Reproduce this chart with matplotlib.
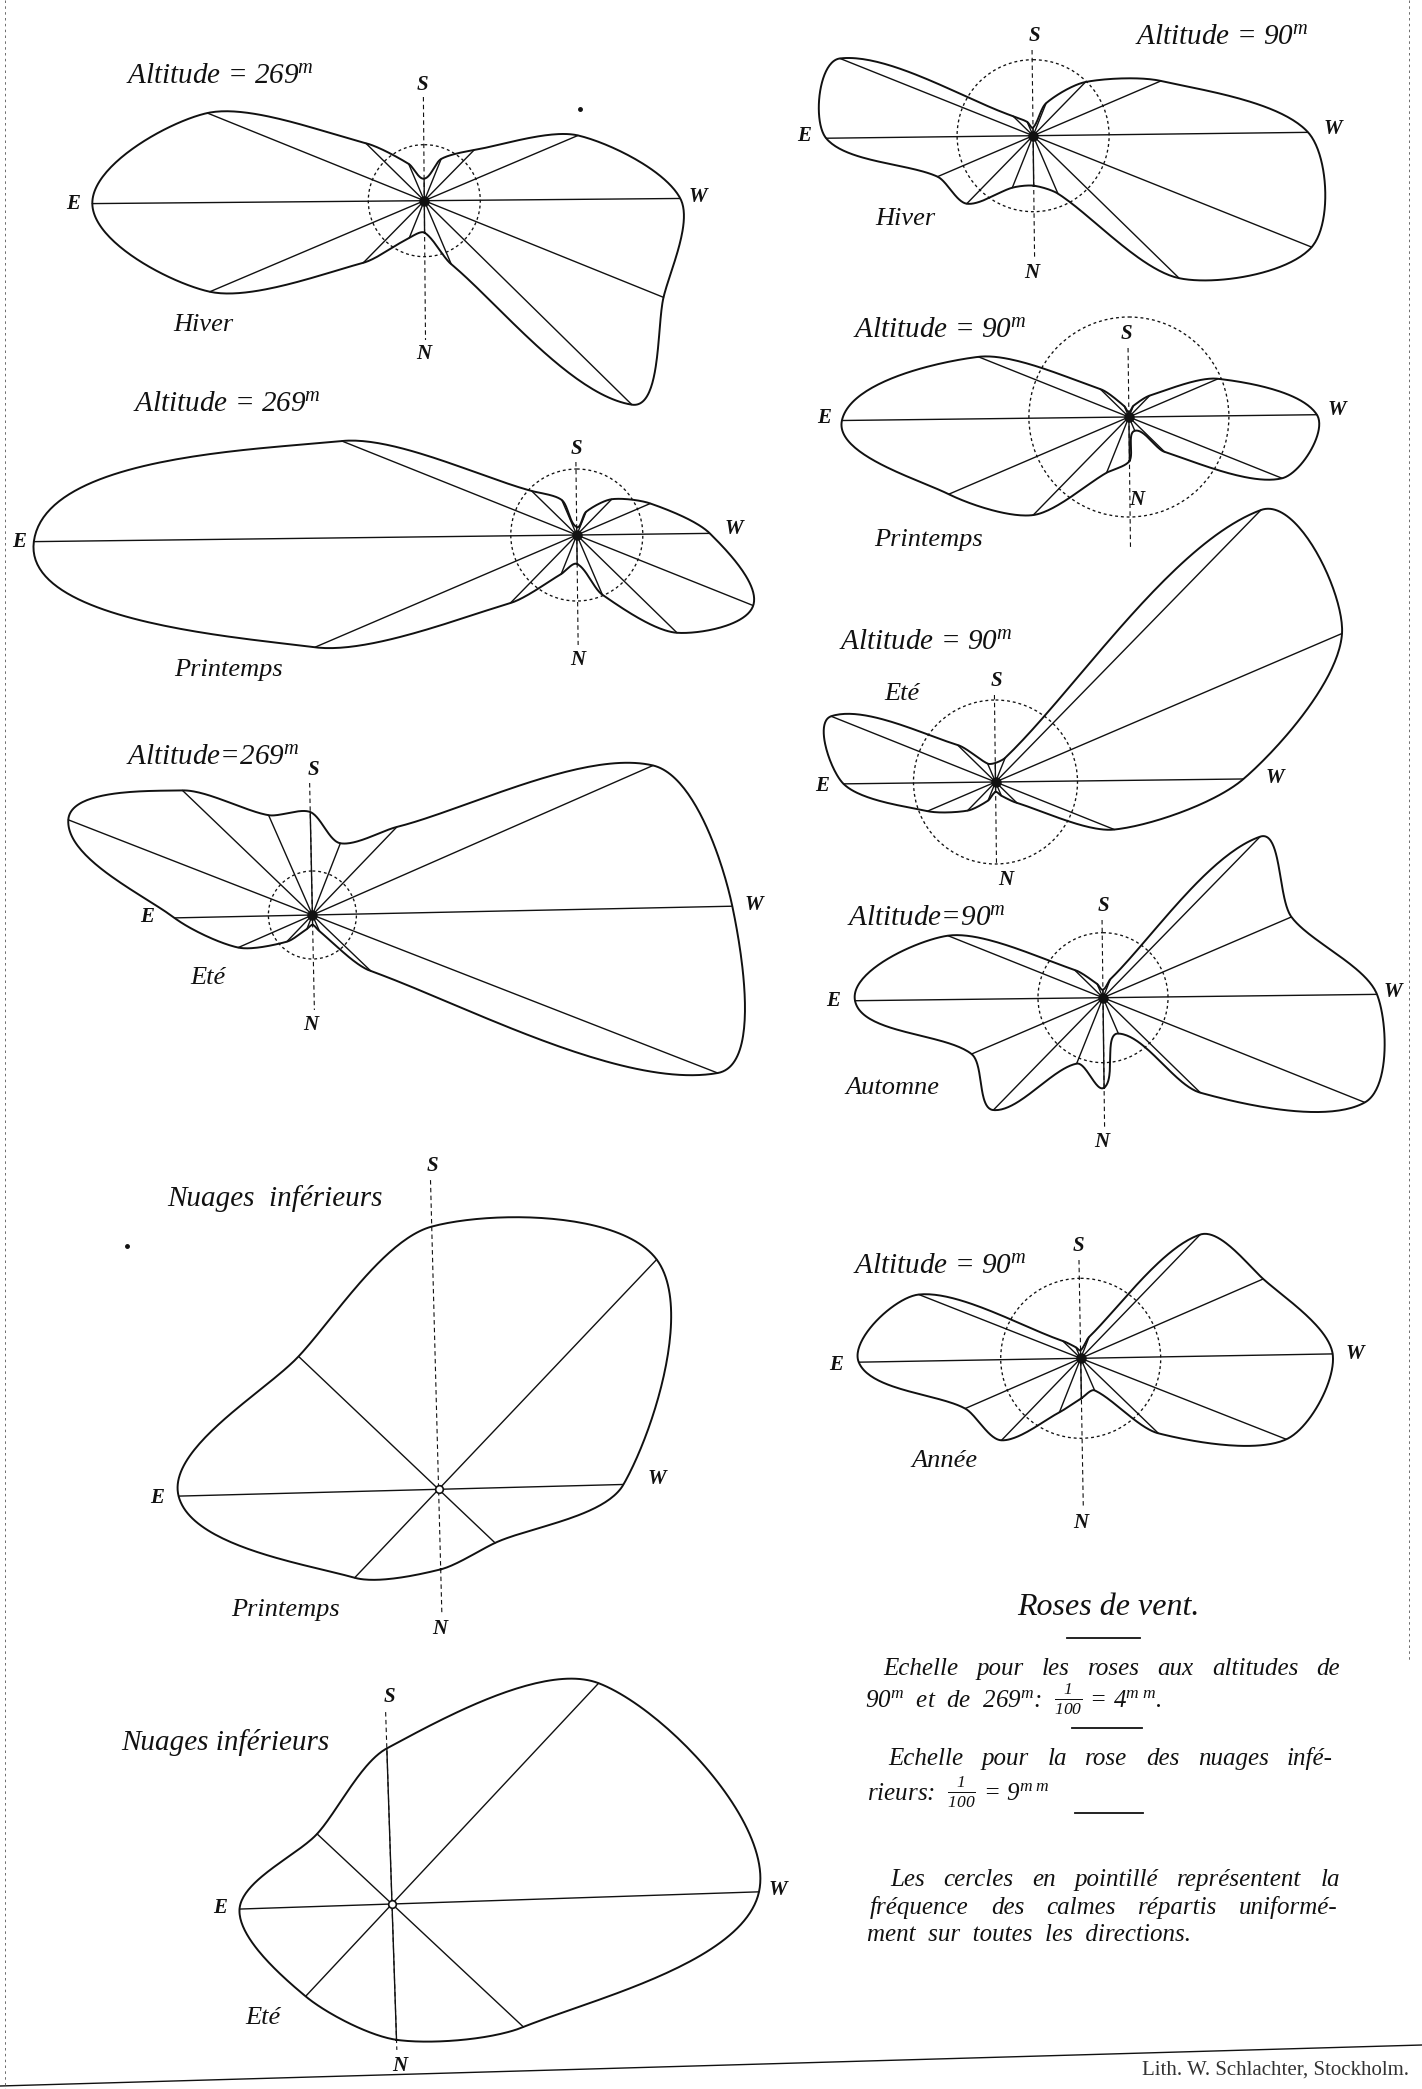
import numpy as np
import matplotlib
matplotlib.use("Agg")
import matplotlib.pyplot as plt
from matplotlib.patches import Circle

plt.rcParams["mathtext.fontset"] = "custom"
plt.rcParams["mathtext.rm"] = "Liberation Serif:italic"
plt.rcParams["mathtext.it"] = "Liberation Serif:italic"
plt.rcParams["mathtext.bf"] = "Liberation Serif:bold:italic"
SERIF = ["Liberation Serif", "DejaVu Serif"]
INK = "#111111"

# ------------------------------------------------------------------
# Wind frequencies (%) by direction
# ------------------------------------------------------------------
DIRS16 = ["N", "NNE", "NE", "ENE", "E", "ESE", "SE", "SSE",
          "S", "SSW", "SW", "WSW", "W", "WNW", "NW", "NNW"]
DIRS8 = ["N", "NE", "E", "SE", "S", "SW", "W", "NW"]

# altitude 269 m
alt269_hiver = [1.6, 2.0, 4.35, 11.65, 16.6, 11.7, 4.1, 2.0,
                1.1, 2.25, 3.55, 8.35, 12.8, 12.9, 14.55, 3.45]
alt269_printemps = [1.45, 2.1, 4.75, 14.25, 27.15, 12.65, 3.15, 1.9,
                    0.4, 1.25, 2.5, 4.0, 6.65, 9.5, 7.0, 3.25]
alt269_ete = [0.5, 0.75, 1.85, 4.05, 6.9, 13.1, 9.0, 5.45,
              5.15, 3.85, 6.1, 18.6, 21.0, 21.75, 4.05, 0.9]

# altitude 90 m
alt90_hiver = [2.5, 2.8, 4.75, 5.2, 10.35, 10.4, 1.4, 0.75,
               0.4, 1.75, 3.75, 6.95, 13.75, 15.0, 10.2, 3.15]
alt90_printemps = [2.2, 3.0, 6.85, 9.8, 14.35, 8.1, 2.0, 0.6,
                   0.25, 0.6, 1.5, 4.85, 9.4, 8.25, 2.5, 0.75]
alt90_ete = [0.5, 1.0, 2.0, 3.7, 7.6, 8.85, 2.65, 1.0,
             0.95, 1.3, 19.0, 18.85, 12.4, 6.4, 1.5, 0.75]
alt90_automne = [4.5, 3.55, 7.85, 7.15, 12.4, 8.35, 2.0, 0.75,
                 0.4, 1.0, 11.25, 10.25, 13.7, 14.1, 6.8, 1.95]
alt90_annee = [2.0, 2.9, 5.7, 6.3, 11.1, 8.7, 1.25, 0.6,
               0.4, 1.15, 8.6, 9.95, 12.6, 11.05, 5.4, 1.75]

# calms spread evenly over all directions (% per direction)
calms_269 = {"hiver": 2.8, "printemps": 3.3, "ete": 2.2}
calms_90 = {"hiver": 3.8, "printemps": 5.0, "ete": 4.1,
            "automne": 3.25, "annee": 4.0}

# lower clouds, 8 directions
nuages_printemps = [1.78, 2.71, 5.78, 4.29, 5.84, 7.04, 4.11, 1.73]
nuages_ete = [3.02, 2.81, 3.39, 2.28, 3.46, 6.72, 8.16, 4.0]

# plate scales: 1/100 = 4 mm (altitudes), 1/100 = 9 mm (clouds)
MM_PER_PCT_ALT = 4.0
MM_PER_PCT_CLOUD = 9.0
PX_PER_MM = 5.0

# ------------------------------------------------------------------
# Figure: one axes in plate pixel units, y pointing down
# ------------------------------------------------------------------
W_PX, H_PX, DPI = 1422, 2089, 100
fig = plt.figure(figsize=(W_PX / DPI, H_PX / DPI), dpi=DPI)
fig.patch.set_facecolor("white")
ax = fig.add_axes([0, 0, 1, 1])
ax.set_xlim(0, W_PX)
ax.set_ylim(H_PX, 0)
ax.axis("off")


def smooth_closed(px, py, n=48, k=0.8):
    """Closed G1 Hermite curve through the points; the tangent at each
    end of a segment follows the neighbours' chord and scales with the
    segment's own length, so short segments stay tight."""
    P = np.column_stack([px, py]).astype(float)
    N = len(P)
    D = np.roll(P, -1, axis=0) - np.roll(P, 1, axis=0)
    norm = np.hypot(D[:, 0], D[:, 1])
    norm[norm < 1e-9] = 1.0
    Tdir = D / norm[:, None]
    s = np.linspace(0, 1, n, endpoint=False)[:, None]
    h00 = 2 * s**3 - 3 * s**2 + 1
    h10 = s**3 - 2 * s**2 + s
    h01 = -2 * s**3 + 3 * s**2
    h11 = s**3 - s**2
    out = []
    for i in range(N):
        j = (i + 1) % N
        L = np.hypot(*(P[j] - P[i]))
        m0 = Tdir[i] * L * k
        m1 = Tdir[j] * L * k
        out.append(h00 * P[i] + h10 * m0 + h01 * P[j] + h11 * m1)
    out = np.vstack(out)
    out = np.vstack([out, out[:1]])
    return out[:, 0], out[:, 1]


def direction_vectors(n_dirs, rot_deg):
    # N points down, E left, S up, W right
    b = np.deg2rad(np.arange(n_dirs) * 360.0 / n_dirs)
    dx, dy = -np.sin(b), np.cos(b)
    phi = np.deg2rad(rot_deg)
    return (dx * np.cos(phi) + dy * np.sin(phi),
            -dx * np.sin(phi) + dy * np.cos(phi))


def draw_rose(values, mm_per_pct, center, rot, calm=None, axis=None,
              cloud=False, dashed_meridian=False):
    cx, cy = center
    unit = mm_per_pct * PX_PER_MM
    n = len(values)
    r = np.asarray(values, dtype=float) * unit
    ux, uy = direction_vectors(n, rot)
    ex, ey = cx + r * ux, cy + r * uy
    # dashed S-N axis
    if axis is not None:
        top, bottom = axis
        sx_, sy_ = direction_vectors(4, rot)
        ax.plot([cx + sx_[2] * (cy - top), cx + sx_[0] * (bottom - cy)],
                [cy + sy_[2] * (cy - top), cy + sy_[0] * (bottom - cy)],
                color=INK, lw=0.8, ls=(0, (4, 3)), zorder=2)
    if calm is not None:
        ax.add_patch(Circle((cx, cy), calm * unit, fill=False, ec=INK,
                            lw=0.95, ls=(0, (2.2, 2.2)), zorder=2))
    for i, (x1, y1) in enumerate(zip(ex, ey)):
        if dashed_meridian and i in (0, n // 2):
            continue
        ax.plot([cx, x1], [cy, y1], color=INK, lw=1.0,
                solid_capstyle="round", zorder=3)
    ox, oy = smooth_closed(ex, ey)
    ax.plot(ox, oy, color=INK, lw=1.4, zorder=4)
    if cloud:
        ax.plot(cx, cy, "o", ms=5.5, mfc="white", mec=INK, mew=1.2, zorder=5)
    else:
        ax.plot(cx, cy, "o", ms=6.5, color=INK, zorder=5)


def label(x, y, s, size=21, bold=False, ha="center"):
    ax.text(x, y, s, fontsize=size, family=SERIF, style="italic",
            weight="bold" if bold else "normal", ha=ha, va="center",
            color=INK, zorder=6)


def compass(s_pos, n_pos, e_pos, w_pos, size=15):
    for (x, y), t in zip([s_pos, n_pos, e_pos, w_pos], "SNEW"):
        label(x, y, t, size=size, bold=True)


# ------------------------------------------------------------------
# Roses (layout: centre, tilt of the plate, dashed axis extent)
# ------------------------------------------------------------------
draw_rose(alt269_hiver, MM_PER_PCT_ALT, (424.3, 200.7), 0.5,
          calms_269["hiver"], axis=(97, 340))
label(220, 76, r"Altitude = 269$^{m}$")
label(203, 325, "Hiver", size=19)
compass((422, 85), (424, 354), (73, 204), (698, 197))

draw_rose(alt269_printemps, MM_PER_PCT_ALT, (576.8, 535.0), 0.7,
          calms_269["printemps"], axis=(462, 645))
label(227, 404, r"Altitude = 269$^{m}$")
label(228, 670, "Printemps", size=19)
compass((576, 449), (578, 660), (19, 542), (734, 529))

draw_rose(alt269_ete, MM_PER_PCT_ALT, (312.4, 915.0), 1.2,
          calms_269["ete"], axis=(783, 1010))
label(213, 757, r"Altitude=269$^{m}$")
label(208, 978, "Eté", size=19)
compass((313, 770), (311, 1025), (147, 917), (754, 905))

draw_rose(nuages_printemps, MM_PER_PCT_CLOUD, (438.6, 1489.3), 1.5,
          axis=(1180, 1615), cloud=True, dashed_meridian=True)
label(275, 1199, "Nuages  inférieurs")
label(285, 1610, "Printemps", size=19)
compass((432, 1166), (440, 1629), (157, 1498), (657, 1479))

draw_rose(nuages_ete, MM_PER_PCT_CLOUD, (392.0, 1904.0), 1.9,
          axis=(1712, 2050), cloud=True)
label(225, 1742, "Nuages inférieurs")
label(263, 2018, "Eté", size=19)
compass((389, 1697), (400, 2066), (220, 1908), (778, 1890))

draw_rose(alt90_hiver, MM_PER_PCT_ALT, (1033.1, 135.7), 0.7,
          calms_90["hiver"], axis=(50, 258))
label(1222, 37, r"Altitude = 90$^{m}$")
label(905, 219, "Hiver", size=19)
compass((1034, 36), (1032, 273), (804, 136), (1333, 129))

draw_rose(alt90_printemps, MM_PER_PCT_ALT, (1128.9, 417.0), 0.7,
          calms_90["printemps"], axis=(348, 548))
label(940, 330, r"Altitude = 90$^{m}$")
label(928, 540, "Printemps", size=19)
compass((1126, 334), (1137, 500), (824, 418), (1337, 410))

draw_rose(alt90_ete, MM_PER_PCT_ALT, (995.5, 782.0), 0.7,
          calms_90["ete"], axis=(695, 865))
label(926, 642, r"Altitude = 90$^{m}$")
label(902, 694, "Eté", size=19)
compass((996, 681), (1006, 880), (822, 786), (1275, 778))

draw_rose(alt90_automne, MM_PER_PCT_ALT, (1103.0, 997.7), 0.7,
          calms_90["automne"], axis=(920, 1128))
label(926, 918, r"Altitude=90$^{m}$")
label(892, 1088, "Automne", size=19)
compass((1103, 906), (1102, 1142), (833, 1001), (1393, 992))

draw_rose(alt90_annee, MM_PER_PCT_ALT, (1080.7, 1358.3), 1.0,
          calms_90["annee"], axis=(1260, 1508))
label(940, 1266, r"Altitude = 90$^{m}$")
label(945, 1461, "Année", size=19)
compass((1078, 1246), (1081, 1523), (836, 1365), (1355, 1354))

# ------------------------------------------------------------------
# Legend block
# ------------------------------------------------------------------
renderer = fig.canvas.get_renderer()


def justified(line, x0, x1, y, size=18):
    words = line.split(" ")
    texts = [ax.text(0, y, w, fontsize=size, family=SERIF, style="italic",
                     ha="left", va="baseline", color=INK) for w in words]
    widths = [t.get_window_extent(renderer).width for t in texts]
    gap = (x1 - x0 - sum(widths)) / max(len(words) - 1, 1)
    x = x0
    for t, w in zip(texts, widths):
        t.set_x(x)
        x += w + gap


def plain(line, x0, y, size=18):
    ax.text(x0, y, line, fontsize=size, family=SERIF, style="italic",
            ha="left", va="baseline", color=INK)


ax.text(1108, 1615, "Roses de vent.", fontsize=23, family=SERIF,
        style="italic", ha="center", va="baseline", color=INK)
for (xa, xb, yy) in [(1067, 1140, 1638), (1072, 1142, 1728),
                     (1075, 1143, 1813)]:
    ax.plot([xa, xb], [yy, yy], color=INK, lw=1.3)

justified("Echelle pour les roses aux altitudes de", 883, 1340, 1675)
plain(r"90$^{m}$  et  de  269$^{m}$:  $\frac{1}{100}$ = 4$^{m\ m}$.", 865, 1707)
justified("Echelle pour la rose des nuages infé-", 888, 1333, 1765)
plain(r"rieurs:  $\frac{1}{100}$ = 9$^{m\ m}$", 867, 1800)
justified("Les cercles en pointillé représentent la", 890, 1340, 1886)
justified("fréquence des calmes répartis uniformé-", 870, 1338, 1914)
plain("ment  sur  toutes  les  directions.", 867, 1941)

# imprint and plate border
ax.plot([0, W_PX], [2086, 2045], color=INK, lw=1.0)
ax.text(1275, 2070, "Lith. W. Schlachter, Stockholm.", fontsize=15,
        family=SERIF, ha="center", va="center", color="#333333")
ax.plot([5, 5], [0, H_PX], color="#555555", lw=0.6, ls=(0, (3, 4)))
ax.plot([1409, 1409], [0, 1660], color="#555555", lw=0.6, ls=(0, (3, 4)))
ax.plot([127, 580], [1246, 109], "o", ms=2.5, color=INK, ls="none")

fig.savefig("out.png", dpi=DPI, facecolor="white")
